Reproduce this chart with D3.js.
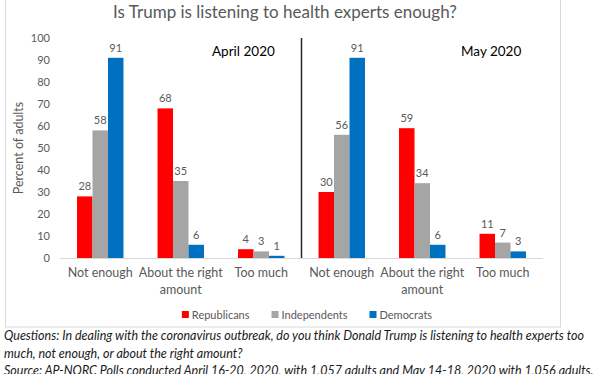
<!DOCTYPE html>
<html lang="en">
<head>
  <meta charset="UTF-8">
  <title>Is Trump listening to health experts</title>
  <script src="https://d3js.org/d3.v7.min.js"></script>
  <style>
    body { margin: 0; background: #fff; }
    svg { display: block; }
    text { font-family: "Lato", "Noto Sans", sans-serif; }
    .tick text { fill: #595959; font-size: 11px; }
    .note { font-style: italic; font-size: 12.5px; fill: #1a1a1a; }
  </style>
</head>
<body>
  <svg id="chart" width="612" height="374"></svg>

  <script>
    // data
    const periods = ["April 2020", "May 2020"];
    const answers = ["Not enough", "About the right amount", "Too much"];
    const series = ["Republicans", "Independents", "Democrats"];
    const colors = ["#FF0000", "#A5A5A5", "#0070C0"];

    const republicans = [28, 68, 4, 30, 59, 11];
    const independents = [58, 35, 3, 56, 34, 7];
    const democrats = [91, 6, 1, 91, 6, 3];
    const yTicks = [0, 10, 20, 30, 40, 50, 60, 70, 80, 90, 100];

    const values = [republicans, independents, democrats];

    const svg = d3.select("#chart");
    const margin = { top: 38, bottom: 258, left: 60, right: 543 };

    // chart frame
    svg.append("rect")
      .attr("x", 5.5).attr("y", -1)
      .attr("width", 555).attr("height", 328)
      .attr("fill", "none")
      .attr("stroke", "#d9d9d9");

    const keys = d3.range(6);
    const x = d3.scaleBand().domain(keys).range([margin.left, margin.right]);
    const xInner = d3.scaleBand().domain(series).range([0, x.bandwidth()]).paddingOuter(1.1);
    const y = d3.scaleLinear().domain([0, 100]).range([margin.bottom, margin.top]);

    // y axis (no line)
    const yAxis = svg.append("g")
      .attr("transform", `translate(${margin.left - 6},0)`)
      .call(d3.axisLeft(y).tickValues(yTicks).tickSize(0).tickPadding(4));
    yAxis.select(".domain").remove();

    svg.append("text")
      .attr("transform", `translate(23,${(margin.top + margin.bottom) / 2}) rotate(-90)`)
      .attr("text-anchor", "middle")
      .attr("fill", "#595959")
      .attr("font-size", 12.5)
      .text("Percent of adults");

    // bars
    series.forEach((s, si) => {
      const g = svg.append("g");
      g.selectAll("rect")
        .data(values[si])
        .join("rect")
        .attr("x", (d, i) => x(i) + xInner(s))
        .attr("y", d => y(d))
        .attr("width", xInner.bandwidth())
        .attr("height", d => y(0) - y(d))
        .attr("fill", colors[si]);
      g.selectAll("text")
        .data(values[si])
        .join("text")
        .attr("x", (d, i) => x(i) + xInner(s) + xInner.bandwidth() / 2)
        .attr("y", d => y(d) - 6)
        .attr("text-anchor", "middle")
        .attr("fill", "#595959")
        .attr("font-size", 11)
        .text(d => d);
    });

    // x axis line
    svg.append("line")
      .attr("x1", margin.left).attr("x2", margin.right)
      .attr("y1", y(0) + 0.5).attr("y2", y(0) + 0.5)
      .attr("stroke", "#d9d9d9");

    // category labels
    const labelLines = { "About the right amount": ["About the right", "amount"] };
    keys.forEach(k => {
      const a = answers[k % 3];
      const lines = labelLines[a] || [a];
      const t = svg.append("text")
        .attr("text-anchor", "middle")
        .attr("fill", "#595959")
        .attr("font-size", 12.5);
      lines.forEach((ln, li) => {
        t.append("tspan")
          .attr("x", x(k) + x.bandwidth() / 2)
          .attr("y", y(0) + 19 + li * 17)
          .text(ln);
      });
    });

    // divider between periods
    svg.append("line")
      .attr("x1", x(3)).attr("x2", x(3))
      .attr("y1", y(100)).attr("y2", y(0))
      .attr("stroke", "#262626").attr("stroke-width", 1.5);

    // period labels
    svg.append("text").attr("x", 212).attr("y", 56)
      .attr("font-size", 13.5).attr("fill", "#000").text(periods[0]);
    svg.append("text").attr("x", 461).attr("y", 56)
      .attr("font-size", 13.5).attr("fill", "#000").text(periods[1]);

    // title
    svg.append("text")
      .attr("x", 285).attr("y", 18)
      .attr("text-anchor", "middle")
      .attr("font-size", 17)
      .attr("fill", "#595959")
      .text("Is Trump is listening to health experts enough?");

    // legend - laid out from measured text widths
    const legend = svg.append("g");
    const gap = 22;
    let lx = 0;
    series.forEach((s, si) => {
      legend.append("rect")
        .attr("x", lx).attr("y", 311)
        .attr("width", 7).attr("height", 7)
        .attr("fill", colors[si]);
      const t = legend.append("text")
        .attr("x", lx + 10).attr("y", 318.5)
        .attr("font-size", 11)
        .attr("fill", "#595959")
        .text(s);
      lx += 10 + t.node().getComputedTextLength() + gap;
    });
    const legendW = lx - gap;
    legend.attr("transform", `translate(${307 - legendW / 2},0)`);

    // notes under the chart
    const notes = [
      "Questions: In dealing with the coronavirus outbreak, do you think Donald Trump is listening to health experts too",
      "much, not enough, or about the right amount?",
      "Source: AP-NORC Polls conducted April 16-20, 2020, with 1,057 adults and May 14-18, 2020 with 1,056 adults."
    ];
    notes.forEach((n, i) => {
      svg.append("text")
        .attr("class", "note")
        .attr("x", 4)
        .attr("y", 340 + i * 17.5)
        .text(n);
    });
  </script>
</body>
</html>
